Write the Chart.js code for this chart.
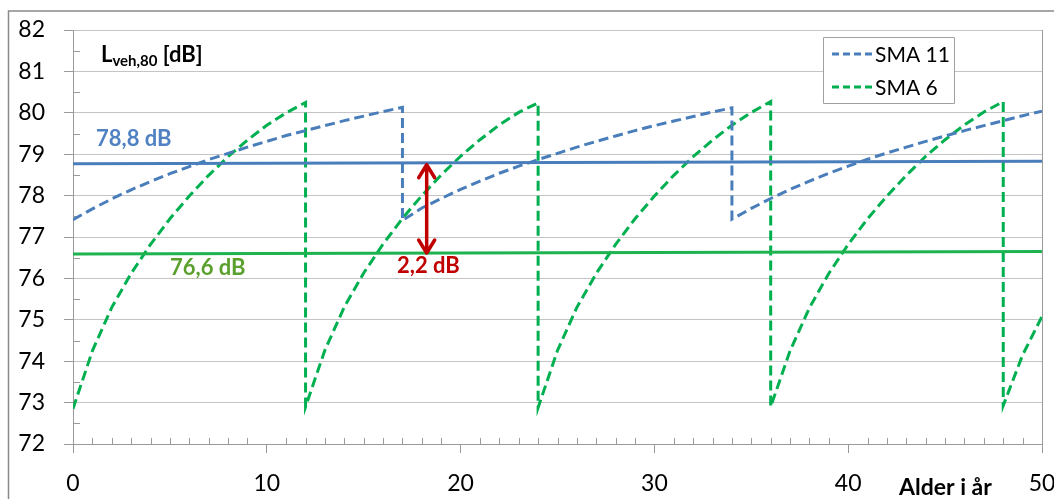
<!DOCTYPE html>
<html>
<head>
<meta charset="utf-8">
<script src="https://cdn.jsdelivr.net/npm/chart.js@4.4.0/dist/chart.umd.min.js"></script>
<style>
  body { margin: 0; background: #fff; }
  #wrap { width: 1054px; height: 499px; position: relative; }
</style>
</head>
<body>
<div id="wrap"><canvas id="chart"></canvas></div>
<script>
// SMA 11: resurfaced every 17 years
const sma11Years = [0,1,2,3,4,5,6,7,8,9,10,11,12,13,14,15,16,17,
  17,18,19,20,21,22,23,24,25,26,27,28,29,30,31,32,33,34,
  34,35,36,37,38,39,40,41,42,43,44,45,46,47,48,49,50];
const sma11Values = [77.42,77.68,77.92,78.14,78.34,78.53,78.70,78.87,79.02,79.17,79.31,79.45,79.57,79.69,79.81,79.92,80.03,80.13,
  77.40,77.70,77.93,78.15,78.35,78.54,78.71,78.87,79.02,79.17,79.31,79.44,79.57,79.69,79.80,79.91,80.02,80.12,
  77.43,77.69,77.93,78.15,78.35,78.54,78.71,78.88,79.03,79.17,79.31,79.44,79.57,79.69,79.81,79.93,80.04];

// SMA 6: resurfaced every 12 years
const sma6Years = [0,1,2,3,4,5,6,7,8,9,10,11,12,
  12,13,14,15,16,17,18,19,20,21,22,23,24,
  24,25,26,27,28,29,30,31,32,33,34,35,36,
  36,37,38,39,40,41,42,43,44,45,46,47,48,
  48,49,50];
const sma6Values = [72.85,74.25,75.30,76.12,76.82,77.44,77.99,78.49,78.94,79.34,79.70,80.00,80.25,
  72.90,74.27,75.31,76.13,76.83,77.45,78.00,78.50,78.95,79.35,79.71,80.01,80.24,
  72.88,74.26,75.30,76.12,76.82,77.44,77.99,78.49,78.94,79.34,79.70,80.01,80.27,
  72.90,74.25,75.29,76.12,76.82,77.44,77.99,78.49,78.95,79.35,79.71,80.02,80.27,
  72.93,74.15,75.08];

// mean levels
const avgYears = [0, 50];
const sma11Avg = [78.77, 78.83];
const sma6Avg = [76.59, 76.65];

const sma11Label = '78,8 dB';
const sma6Label = '76,6 dB';
const diffLabel = '2,2 dB';
const diffAtYear = 18.25;

const FONT = 'Lato, "Open Sans", sans-serif';
const BLUE = '#4a7ebb';
const GREEN = '#00b050';
const GRID = '#c4c4c4';
const AXIS = '#9a9a9a';

const toPoints = (xs, ys) => xs.map((x, i) => ({ x: x, y: ys[i] }));

const extras = {
  id: 'extras',
  beforeDraw(chart) {
    const ctx = chart.ctx;
    ctx.save();
    ctx.fillStyle = '#fff';
    ctx.fillRect(0, 0, chart.width, chart.height);
    ctx.strokeStyle = '#8a8a8a';
    ctx.lineWidth = 1.5;
    ctx.strokeRect(8.5, 11, chart.width + 20, chart.height + 20);
    ctx.restore();
  },
  beforeDatasetsDraw(chart) {
    // minor ticks, pointing into the plot
    const ctx = chart.ctx, xs = chart.scales.x, ys = chart.scales.y;
    const a = chart.chartArea;
    ctx.save();
    ctx.strokeStyle = AXIS;
    ctx.lineWidth = 1;
    ctx.beginPath();
    for (let v = 72.5; v < 82; v += 1) {
      const py = Math.round(ys.getPixelForValue(v)) + 0.5;
      ctx.moveTo(a.left, py); ctx.lineTo(a.left + 7, py);
    }
    for (let v = 1; v < 50; v++) {
      if (v % 10 === 0) continue;
      const px = Math.round(xs.getPixelForValue(v)) + 0.5;
      ctx.moveTo(px, a.bottom); ctx.lineTo(px, a.bottom - 6);
    }
    ctx.stroke();
    ctx.restore();
  },
  afterDraw(chart) {
    const ctx = chart.ctx, xs = chart.scales.x, ys = chart.scales.y;
    ctx.save();

    // y title
    ctx.fillStyle = '#000';
    ctx.textBaseline = 'alphabetic';
    ctx.font = 'bold 22px ' + FONT;
    let x = 101;
    ctx.fillText('L', x, 62);
    x += ctx.measureText('L').width;
    ctx.font = 'bold 15px ' + FONT;
    ctx.fillText('veh,80', x, 66);
    x += ctx.measureText('veh,80').width;
    ctx.font = 'bold 22px ' + FONT;
    ctx.fillText(' [dB]', x, 62);

    // x title
    ctx.font = 'bold 23px ' + FONT;
    ctx.textBaseline = 'middle';
    ctx.fillText('Alder i år', 899, 488);

    // value labels
    ctx.font = 'bold 22px ' + FONT;
    ctx.fillStyle = '#5082c3';
    ctx.fillText(sma11Label, 96, 139);
    ctx.fillStyle = '#5aa02c';
    ctx.fillText(sma6Label, 170, 268);
    ctx.fillStyle = '#c00000';
    ctx.fillText(diffLabel, 397, 266);

    // difference arrow
    const ax = xs.getPixelForValue(diffAtYear);
    const yTop = ys.getPixelForValue(sma11Avg[0]);
    const yBot = ys.getPixelForValue(sma6Avg[0]);
    ctx.strokeStyle = '#c00000';
    ctx.lineWidth = 3.5;
    ctx.lineCap = 'round';
    ctx.lineJoin = 'round';
    ctx.beginPath();
    ctx.moveTo(ax, yTop + 2); ctx.lineTo(ax, yBot - 2);
    ctx.moveTo(ax - 8, yTop + 14); ctx.lineTo(ax, yTop + 1); ctx.lineTo(ax + 8, yTop + 14);
    ctx.moveTo(ax - 8, yBot - 14); ctx.lineTo(ax, yBot - 1); ctx.lineTo(ax + 8, yBot - 14);
    ctx.stroke();

    // legend
    ctx.lineCap = 'butt';
    ctx.fillStyle = '#fff';
    ctx.fillRect(823, 37, 131, 66);
    ctx.strokeStyle = '#a0a0a0';
    ctx.lineWidth = 1;
    ctx.strokeRect(823.5, 37.5, 131, 66);
    const items = chart.data.datasets.filter(d => d.inLegend);
    items.forEach((d, i) => {
      const ly = 54 + i * 33;
      ctx.strokeStyle = d.borderColor;
      ctx.lineWidth = 3;
      ctx.setLineDash([7, 4]);
      ctx.beginPath();
      ctx.moveTo(832, ly); ctx.lineTo(872, ly);
      ctx.stroke();
      ctx.setLineDash([]);
      ctx.fillStyle = '#000';
      ctx.font = '21px ' + FONT;
      ctx.textBaseline = 'middle';
      ctx.fillText(d.label, 875, ly + 1);
    });
    ctx.restore();
  }
};

new Chart(document.getElementById('chart'), {
  type: 'line',
  data: {
    datasets: [
      { label: 'avg11', data: toPoints(avgYears, sma11Avg), borderColor: BLUE, borderWidth: 3, pointRadius: 0 },
      { label: 'avg6', data: toPoints(avgYears, sma6Avg), borderColor: '#1db34f', borderWidth: 3, pointRadius: 0 },
      { label: 'SMA 11', inLegend: true, data: toPoints(sma11Years, sma11Values), borderColor: BLUE, borderWidth: 3, borderDash: [10, 5], pointRadius: 0 },
      { label: 'SMA 6', inLegend: true, data: toPoints(sma6Years, sma6Values), borderColor: GREEN, borderWidth: 3, borderDash: [10, 5], pointRadius: 0 }
    ]
  },
  options: {
    responsive: true,
    maintainAspectRatio: false,
    animation: false,
    layout: { padding: { top: 30, right: 12, left: 0, bottom: 0 } },
    plugins: { legend: { display: false }, tooltip: { enabled: false } },
    elements: { line: { tension: 0 } },
    scales: {
      x: {
        type: 'linear',
        min: 0, max: 50,
        afterFit: (s) => { s.height = 55; s.paddingRight = 0; s.paddingLeft = 0; },
        ticks: { stepSize: 10, padding: 17, color: '#000', font: { family: FONT, size: 23 } },
        grid: {
          color: (c) => (c.tick && c.tick.value === 50 ? AXIS : 'transparent'),
          tickColor: AXIS, tickLength: 9
        },
        border: { color: AXIS }
      },
      y: {
        min: 72, max: 82,
        afterFit: (s) => { s.width = 73; s.paddingTop = 0; s.paddingBottom = 0; },
        ticks: { stepSize: 1, padding: 19, color: '#000', font: { family: FONT, size: 23 } },
        grid: { color: GRID, tickColor: AXIS, tickLength: 9 },
        border: { color: AXIS }
      }
    }
  },
  plugins: [extras]
});
</script>
</body>
</html>
